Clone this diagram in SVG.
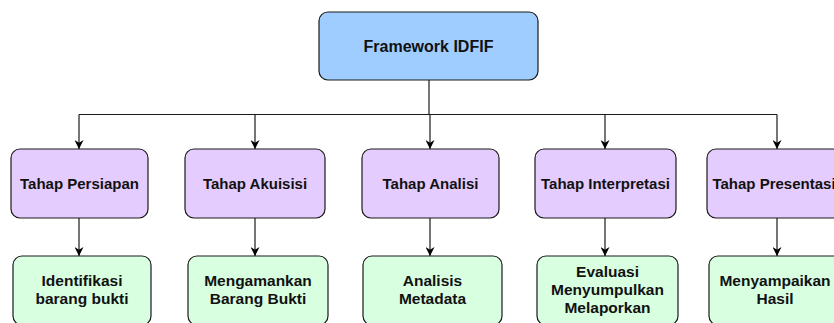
<svg xmlns="http://www.w3.org/2000/svg" width="834" height="323" viewBox="0 0 834 323">
  <defs>
    <marker id="arrow" viewBox="0 0 10 10" refX="10" refY="5" markerWidth="9" markerHeight="9" markerUnits="userSpaceOnUse" orient="auto">
      <path d="M0,0 L10,5 L0,10 L3,5 z" fill="#000"/>
    </marker>
    <style>
      .box { stroke: #1a1a1a; stroke-width: 1.2; }
      .root { fill: #9fcdff; }
      .stage { fill: #e5ccff; }
      .task { fill: #d9ffe1; }
      .lbl { font-family: "Liberation Sans", Arial, sans-serif; font-weight: bold; font-size: 15px; fill: #111; text-anchor: middle; }
      .big { font-size: 16px; }
      .mid { font-size: 15.5px; }
      .edge { fill: none; stroke: #1a1a1a; stroke-width: 1.2; }
      .arr { marker-end: url(#arrow); }
    </style>
  </defs>
  <rect width="834" height="323" fill="#ffffff"/>

  <!-- connectors -->
  <g id="connectors">
    <path class="edge" d="M429,80 V114.5"/>
    <path class="edge" d="M79,114.5 H777"/>
    <path class="edge arr" d="M79,114.5 V149"/>
    <path class="edge arr" d="M255,114.5 V149"/>
    <path class="edge arr" d="M430,114.5 V149"/>
    <path class="edge arr" d="M605,114.5 V149"/>
    <path class="edge arr" d="M777,114.5 V149"/>
    <path class="edge arr" d="M79,218 V256"/>
    <path class="edge arr" d="M255,218 V256"/>
    <path class="edge arr" d="M430,218 V256"/>
    <path class="edge arr" d="M605,218 V256"/>
    <path class="edge arr" d="M777,218 V256"/>
  </g>

  <!-- root -->
  <g id="framework">
    <rect class="box root" x="319" y="12" width="219" height="68" rx="9"/>
    <text class="lbl big" x="428.5" y="51.5">Framework IDFIF</text>
  </g>

  <!-- stages -->
  <g id="persiapan">
    <rect class="box stage" x="11" y="149" width="137" height="69" rx="9"/>
    <text class="lbl" x="79.5" y="189">Tahap Persiapan</text>
  </g>
  <g id="akuisisi">
    <rect class="box stage" x="185" y="149" width="140" height="69" rx="9"/>
    <text class="lbl" x="255" y="189">Tahap Akuisisi</text>
  </g>
  <g id="analisi">
    <rect class="box stage" x="362" y="149" width="137" height="69" rx="9"/>
    <text class="lbl" x="430.5" y="189">Tahap Analisi</text>
  </g>
  <g id="interpretasi">
    <rect class="box stage" x="535" y="149" width="141" height="69" rx="9"/>
    <text class="lbl" x="605.5" y="189">Tahap Interpretasi</text>
  </g>
  <g id="presentasi">
    <rect class="box stage" x="707" y="149" width="140" height="69" rx="9"/>
    <text class="lbl" x="774" y="189">Tahap Presentasi</text>
  </g>

  <!-- tasks -->
  <g id="identifikasi">
    <rect class="box task" x="13" y="256" width="138" height="69" rx="9"/>
    <text class="lbl mid" x="82" y="286">Identifikasi</text>
    <text class="lbl mid" x="82" y="304">barang bukti</text>
  </g>
  <g id="mengamankan">
    <rect class="box task" x="188" y="256" width="140" height="69" rx="9"/>
    <text class="lbl mid" x="258" y="286">Mengamankan</text>
    <text class="lbl mid" x="258" y="304">Barang Bukti</text>
  </g>
  <g id="metadata">
    <rect class="box task" x="363" y="256" width="139" height="69" rx="9"/>
    <text class="lbl mid" x="432.5" y="286">Analisis</text>
    <text class="lbl mid" x="432.5" y="304">Metadata</text>
  </g>
  <g id="evaluasi">
    <rect class="box task" x="537" y="256" width="141" height="69" rx="9"/>
    <text class="lbl mid" x="607.5" y="277">Evaluasi</text>
    <text class="lbl mid" x="607.5" y="295">Menyumpulkan</text>
    <text class="lbl mid" x="607.5" y="313">Melaporkan</text>
  </g>
  <g id="menyampaikan">
    <rect class="box task" x="709" y="256" width="140" height="69" rx="9"/>
    <text class="lbl mid" x="775" y="286">Menyampaikan</text>
    <text class="lbl mid" x="775" y="304">Hasil</text>
  </g>
</svg>
